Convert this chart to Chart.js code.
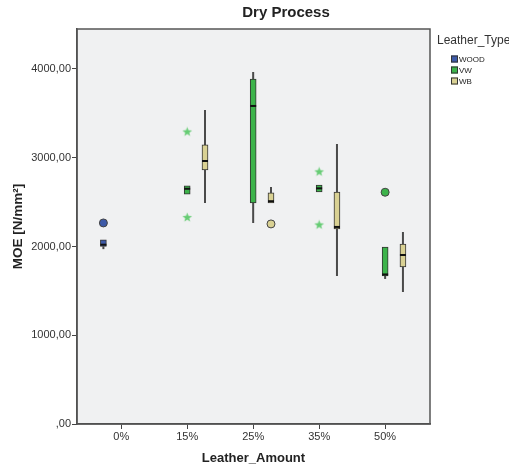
<!DOCTYPE html>
<html>
<head>
<meta charset="utf-8">
<script src="https://cdn.jsdelivr.net/npm/chart.js@4/dist/chart.umd.min.js"></script>
<style>
  html, body { margin: 0; padding: 0; background: #fff; }
  canvas { display: block; }
</style>
</head>
<body>
<canvas id="myChart" width="509" height="468"></canvas>
<script>
// Leather amounts along the x axis and leather types in the legend
var categories = ['0%', '15%', '25%', '35%', '50%'];
var types = ['WOOD', 'VW', 'WB'];
var yTicks = [0, 1000, 2000, 3000, 4000];

// Five-number summaries per amount: [lowWhisker, q1, median, q3, highWhisker]
var woodStats = [[1970, 2000, 2020, 2075, 2075], null, null, null, null];
var vwStats = [null, [2590, 2590, 2650, 2682, 2682], [2265, 2490, 3583, 3887, 3966], [2615, 2615, 2655, 2693, 2693], [1634, 1668, 1685, 1994, 1994]];
var wbStats = [null, [2490, 2862, 2963, 3144, 3538], [2490, 2490, 2510, 2603, 2670], [1668, 2197, 2220, 2614, 3155], [1487, 1769, 1904, 2028, 2163]];

// Outliers (circles) and extremes (stars) per amount
var woodCircles = [[2265], [], [], [], []];
var vwCircles = [[], [], [], [], [2611]];
var wbCircles = [[], [], [2254], [], []];
var vwStars = [[], [3290, 2325], [], [2840, 2242], []];

var typeColors = ['#3d5aa8', '#3cb34a', '#d9d193'];
var typeOffsets = [-0.27, 0, 0.27];
var allStats = [woodStats, vwStats, wbStats];

function boxData(stats, off) {
  var out = [];
  stats.forEach(function (s, i) {
    if (s) out.push({ x: i + off, y: [s[1], s[3]] });
  });
  return out;
}

function pointData(list, off) {
  var out = [];
  list.forEach(function (vals, i) {
    vals.forEach(function (v) { out.push({ x: i + off, y: v }); });
  });
  return out;
}

// filled five point star for the extreme values
var star = document.createElement('canvas');
star.width = 11; star.height = 11;
(function () {
  var c = star.getContext('2d');
  c.beginPath();
  for (var k = 0; k < 10; k++) {
    var r = k % 2 === 0 ? 5 : 2.1;
    var a = -Math.PI / 2 + k * Math.PI / 5;
    c.lineTo(5.5 + r * Math.cos(a), 5.5 + r * Math.sin(a));
  }
  c.closePath();
  c.fillStyle = '#66cc74';
  c.fill();
})();

var datasets = types.map(function (t, k) {
  return {
    type: 'bar',
    label: t,
    data: boxData(allStats[k], typeOffsets[k]),
    backgroundColor: typeColors[k],
    borderColor: '#333',
    borderWidth: 1,
    borderSkipped: false,
    barThickness: 6,
    grouped: false
  };
});
[woodCircles, vwCircles, wbCircles].forEach(function (list, k) {
  datasets.push({
    type: 'scatter',
    label: types[k] + ' outliers',
    data: pointData(list, typeOffsets[k]),
    pointStyle: 'circle',
    pointRadius: 4,
    backgroundColor: typeColors[k],
    borderColor: '#444',
    borderWidth: 1
  });
});
datasets.push({
  type: 'scatter',
  label: 'VW extremes',
  data: pointData(vwStars, typeOffsets[1]),
  pointStyle: star
});

// plot background, whiskers, medians, frame, title and legend
var boxPlotPlugin = {
  id: 'boxPlotPlugin',
  beforeDraw: function (chart) {
    var a = chart.chartArea, ctx = chart.ctx;
    ctx.save();
    ctx.fillStyle = '#f0f1f2';
    ctx.fillRect(a.left, a.top, a.right - a.left, a.bottom - a.top);
    ctx.restore();
  },
  beforeDatasetsDraw: function (chart) {
    var ctx = chart.ctx, xs = chart.scales.x, ys = chart.scales.y;
    ctx.save();
    ctx.strokeStyle = '#4a4a4a';
    ctx.lineWidth = 2;
    allStats.forEach(function (stats, k) {
      stats.forEach(function (s, i) {
        if (!s) return;
        var x = xs.getPixelForValue(i + typeOffsets[k]);
        ctx.beginPath();
        ctx.moveTo(x, ys.getPixelForValue(s[0]));
        ctx.lineTo(x, ys.getPixelForValue(s[1]));
        ctx.moveTo(x, ys.getPixelForValue(s[3]));
        ctx.lineTo(x, ys.getPixelForValue(s[4]));
        ctx.stroke();
      });
    });
    ctx.restore();
  },
  afterDatasetsDraw: function (chart) {
    var ctx = chart.ctx, xs = chart.scales.x, ys = chart.scales.y;
    ctx.save();
    ctx.strokeStyle = '#111';
    ctx.lineWidth = 2;
    allStats.forEach(function (stats, k) {
      stats.forEach(function (s, i) {
        if (!s) return;
        var x = xs.getPixelForValue(i + typeOffsets[k]);
        var y = ys.getPixelForValue(s[2]);
        ctx.beginPath();
        ctx.moveTo(x - 3, y);
        ctx.lineTo(x + 3, y);
        ctx.stroke();
      });
    });
    ctx.restore();
  },
  afterDraw: function (chart) {
    var a = chart.chartArea, ctx = chart.ctx;
    ctx.save();
    ctx.strokeStyle = '#555';
    ctx.lineWidth = 1.5;
    ctx.strokeRect(a.left, a.top, a.right - a.left, a.bottom - a.top);

    ctx.fillStyle = '#222';
    ctx.font = 'bold 15px "Liberation Sans", Arial, sans-serif';
    ctx.textAlign = 'center';
    ctx.textBaseline = 'middle';
    ctx.fillText('Dry Process', 286, 13);

    ctx.textAlign = 'left';
    ctx.font = '12px "Liberation Sans", Arial, sans-serif';
    ctx.fillStyle = '#333';
    ctx.fillText('Leather_Type', 437, 41);
    ctx.font = '8px "Liberation Sans", Arial, sans-serif';
    types.forEach(function (t, k) {
      var y = 59 + k * 11;
      ctx.fillStyle = typeColors[k];
      ctx.fillRect(451, y - 3.5, 7, 7);
      ctx.strokeStyle = '#333';
      ctx.lineWidth = 1;
      ctx.strokeRect(451.5, y - 3, 6, 6);
      ctx.fillStyle = '#222';
      ctx.fillText(t, 459, y + 0.5);
    });
    ctx.restore();
  }
};

new Chart('myChart', {
  data: { datasets: datasets },
  options: {
    responsive: false,
    animation: false,
    layout: { padding: { top: 29, right: 79, left: 0, bottom: 0 } },
    plugins: {
      legend: { display: false },
      title: { display: false },
      tooltip: { enabled: false }
    },
    scales: {
      x: {
        type: 'linear',
        min: -0.67,
        max: 4.68,
        offset: false,
        afterBuildTicks: function (s) {
          s.ticks = categories.map(function (c, i) { return { value: i }; });
        },
        afterFit: function (s) { s.height = 44; },
        ticks: {
          callback: function (v) { return categories[v]; },
          font: { family: '"Liberation Sans", Arial, sans-serif', size: 11 },
          color: '#333',
          padding: 1,
          autoSkip: false,
          maxRotation: 0
        },
        grid: { drawOnChartArea: false, drawTicks: true, tickLength: 5, color: '#444', offset: false },
        border: { color: '#444', width: 1.5 },
        title: {
          display: true,
          text: 'Leather_Amount',
          font: { family: '"Liberation Sans", Arial, sans-serif', size: 13, weight: 'bold' },
          color: '#222',
          padding: { top: 0, bottom: 2 }
        }
      },
      y: {
        type: 'linear',
        min: 0,
        max: 4450,
        afterBuildTicks: function (s) {
          s.ticks = yTicks.map(function (v) { return { value: v }; });
        },
        afterFit: function (s) { s.width = 77; },
        ticks: {
          callback: function (v) { return v === 0 ? ',00' : v + ',00'; },
          font: { family: '"Liberation Sans", Arial, sans-serif', size: 11 },
          color: '#333',
          padding: 1
        },
        grid: { drawOnChartArea: false, drawTicks: true, tickLength: 5, color: '#444' },
        border: { color: '#444', width: 1.5 },
        title: {
          display: true,
          text: 'MOE [N/mm²]',
          font: { family: '"Liberation Sans", Arial, sans-serif', size: 13.5, weight: 'bold' },
          color: '#222',
          padding: { top: 10, bottom: 0 }
        }
      }
    }
  },
  plugins: [boxPlotPlugin]
});
</script>
</body>
</html>
